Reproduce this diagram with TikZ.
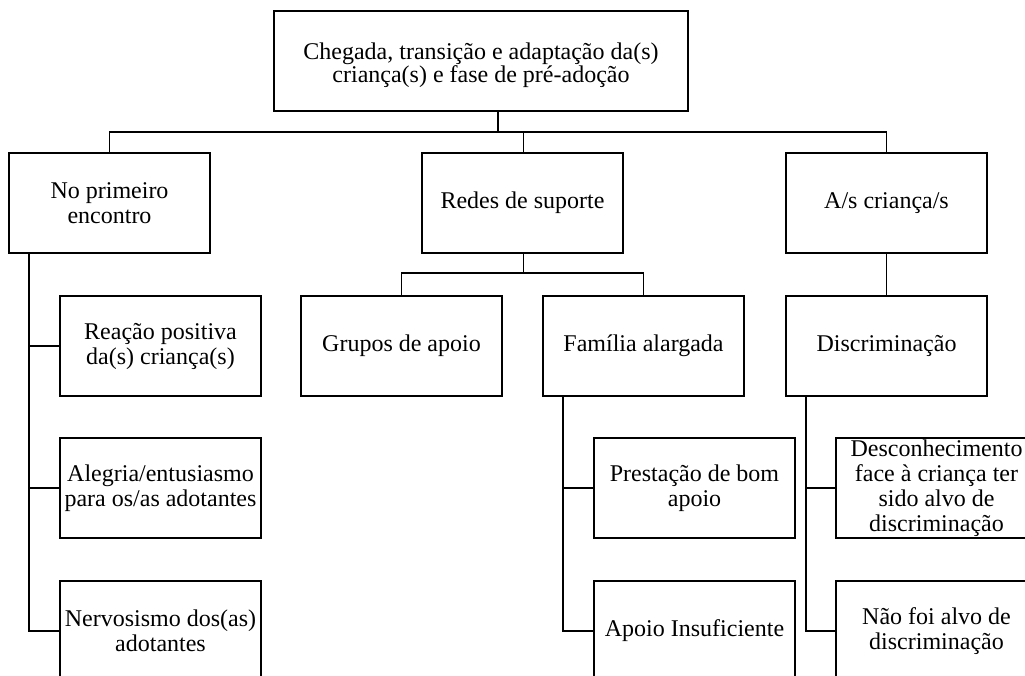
\documentclass[tikz,border=0pt]{standalone}
\usepackage{fontspec}
\setmainfont{Liberation Serif}
\begin{document}
\begin{tikzpicture}[x=1pt,y=-1pt,
  box/.style={draw,line width=2pt,minimum width=201pt,minimum height=100pt,inner sep=0pt,outer sep=0pt,anchor=north west},
  txt/.style={align=center,font=\fontsize{24}{25}\selectfont,inner sep=0pt},
  conn/.style={line width=1.8pt}]
\useasboundingbox (0,0) rectangle (1025,675);
\clip (0,0) rectangle (1025,675);
% boxes
\node[box,minimum width=414pt] (top) at (274,11) {};
\node[box] (np) at (9,153) {};
\node[box] (red) at (422,153) {};
\node[box] (as) at (786,153) {};
\node[box] (reac) at (60,296) {};
\node[box] (grp) at (301,296) {};
\node[box] (fam) at (543,296) {};
\node[box] (disc) at (786,296) {};
\node[box] (aleg) at (60,438) {};
\node[box] (nerv) at (60,581) {};
\node[box] (prest) at (594,438) {};
\node[box] (insuf) at (594,581) {};
\node[box] (desc) at (836,438) {};
\node[box] (nao) at (836,581) {};
% texts
\node[txt,font=\fontsize{24}{22}\selectfont] (topt) at ([yshift=-4pt]top.center) {Chegada, transição e adaptação da(s)\\criança(s) e fase de pré-adoção};
\node[txt] (npt) at (np.center) {No primeiro\\encontro};
\node[txt] (redt) at (red.center) {Redes de suporte};
\node[txt] (ast) at (as.center) {A/s criança/s};
\node[txt] (react) at (reac.center) {Reação positiva\\da(s) criança(s)};
\node[txt] (grpt) at (grp.center) {Grupos de apoio};
\node[txt] (famt) at (fam.center) {Família alargada};
\node[txt] (disct) at (disc.center) {Discriminação};
\node[txt] (alegt) at (aleg.center) {Alegria/entusiasmo\\para os/as adotantes};
\node[txt] (nervt) at (nerv.center) {Nervosismo dos(as)\\adotantes};
\node[txt] (prestt) at (prest.center) {Prestação de bom\\apoio};
\node[txt] (insuft) at (insuf.center) {Apoio Insuficiente};
\node[txt] (desct) at (desc.center) {Desconhecimento\\face à criança ter\\sido alvo de\\discriminação};
\node[txt] (naot) at (nao.center) {Não foi alvo de\\discriminação};
% junctions
\coordinate (j1) at (0,132);
\coordinate (j2) at (0,273);
% connectors
\draw[conn] ([xshift=17pt]top.south) -- ([xshift=17pt]top.south |- j1);
\draw[conn] (np.north) |- (as.north |- j1) -- (as.north);
\draw[conn] ([xshift=1pt]red.north |- j1) -- ([xshift=1pt]red.north);
\draw[conn] ([xshift=1pt]red.south) -- ([xshift=1pt]red.south |- j2);
\draw[conn] (grp.north) |- (fam.north |- j2) -- (fam.north);
\draw[conn] (as.south) -- (disc.north);
\draw[conn] ([xshift=20pt]np.south west) |- (nerv.west);
\draw[conn] ([xshift=20pt]np.south west |- reac.west) -- (reac.west);
\draw[conn] ([xshift=20pt]np.south west |- aleg.west) -- (aleg.west);
\draw[conn] ([xshift=20pt]fam.south west) |- (insuf.west);
\draw[conn] ([xshift=20pt]fam.south west |- prest.west) -- (prest.west);
\draw[conn] ([xshift=20pt]disc.south west) |- (nao.west);
\draw[conn] ([xshift=20pt]disc.south west |- desc.west) -- (desc.west);
\end{tikzpicture}
\end{document}
